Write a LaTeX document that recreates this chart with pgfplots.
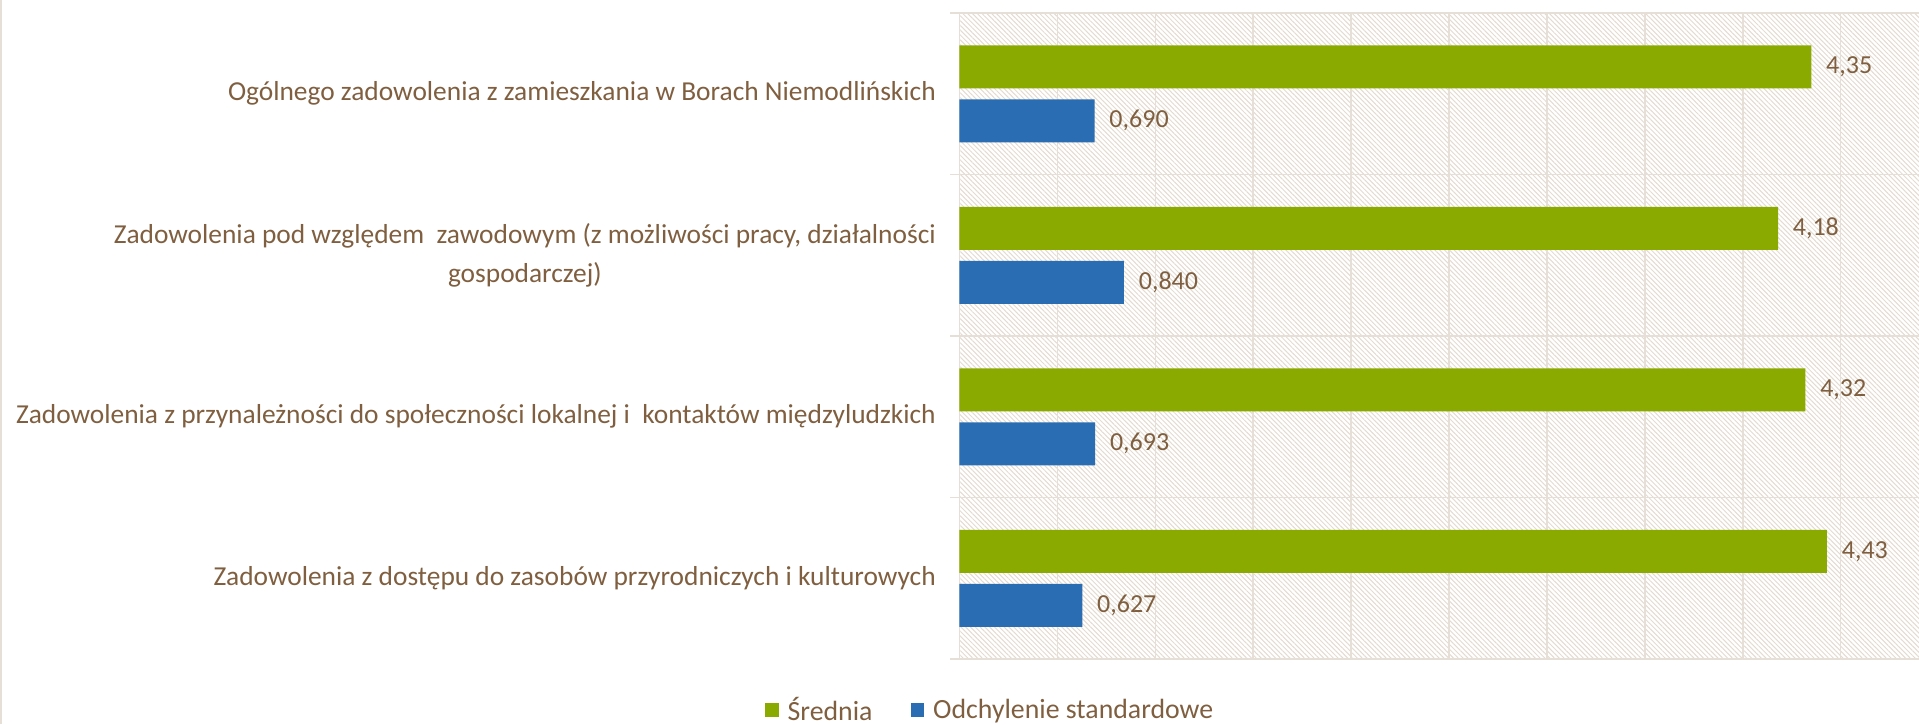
\documentclass[border=0pt]{standalone}
\usepackage{pgfplots}
\pgfplotsset{compat=1.18}
\usepackage{pgfplotstable}
\usepackage{fontspec}
\setmainfont{Carlito}
\usetikzlibrary{patterns.meta}
\definecolor{txt}{HTML}{7F5F3F}
\definecolor{grn}{HTML}{8BAA00}
\definecolor{blu}{HTML}{2A6DB3}
\definecolor{gridc}{HTML}{E6DFD7}
\definecolor{hatch}{HTML}{E3DAD0}

\pgfplotstableread{
y x lab
0 4.35 {4,35}
1 4.18 {4,18}
2 4.32 {4,32}
3 4.43 {4,43}
}\srednia

\pgfplotstableread{
y x lab
0 0.690 {0,690}
1 0.840 {0,840}
2 0.693 {0,693}
3 0.627 {0,627}
}\odch

\begin{document}
\begin{tikzpicture}
\useasboundingbox (0,0) rectangle (959.5pt,362pt);
\draw[gridc,line width=1pt] (0.5pt,0) -- (0.5pt,362pt);
\begin{axis}[
  at={(479.75pt,32.5pt)}, anchor=south west,
  width=479.75pt, height=323pt, scale only axis,
  xbar, y dir=reverse,
  xmin=0, xmax=4.9, ymin=-0.5, ymax=3.5,
  xtick={0,0.5,1,1.5,2,2.5,3,3.5,4,4.5}, xticklabels=\empty,
  xmajorgrids, major x grid style={gridc, line width=0.75pt},
  ytick={0,1,2,3},
  yticklabels={
    {Ogólnego zadowolenia z zamieszkania w Borach Niemodlińskich},
    {Zadowolenia pod względem~ zawodowym (z możliwości pracy, działalności\\gospodarczej)},
    {Zadowolenia z przynależności do społeczności lokalnej i~ kontaktów międzyludzkich},
    {Zadowolenia z dostępu do zasobów przyrodniczych i kulturowych}},
  minor ytick={-0.5,0.5,1.5,2.5,3.5},
  yminorgrids, minor y grid style={gridc, line width=0.75pt},
  tick align=outside, major tick length=0pt, minor tick length=4.5pt,
  ytick pos=left, xtick pos=bottom,
  minor y tick style={gridc, line width=0.75pt},
  axis line style={draw=none},
  axis background/.style={pattern={Lines[angle=-45,distance=1.7pt,line width=0.5pt]}, pattern color=hatch},
  yticklabel style={font=\fontsize{13.7}{19.5}\selectfont, text=txt, align=center, xshift=-8.3pt},
  bar width=21.5pt,
  point meta=explicit symbolic,
  nodes near coords,
  nodes near coords style={anchor=west, xshift=3.9pt, text=txt, font=\fontsize{13}{15}\selectfont},
  legend style={draw=none, fill=none, legend columns=2,
    at={(axis description cs:0.033,-0.079)}, anchor=center,
    font=\fontsize{13.9}{15}\selectfont, text=txt,
    /tikz/every odd column/.append style={column sep=2.5pt},
    /tikz/every even column/.append style={column sep=17pt}},
  legend image code/.code={\fill[#1] (0pt,-3.4pt) rectangle (6.8pt,3.4pt);},
]
\addplot[fill=grn, draw=none, bar shift=13.5pt] table[x=x, y=y, meta=lab] {\srednia};
\addplot[fill=blu, draw=none, bar shift=-13.5pt] table[x=x, y=y, meta=lab] {\odch};
\legend{Średnia, Odchylenie standardowe}
\end{axis}
\end{tikzpicture}
\end{document}
